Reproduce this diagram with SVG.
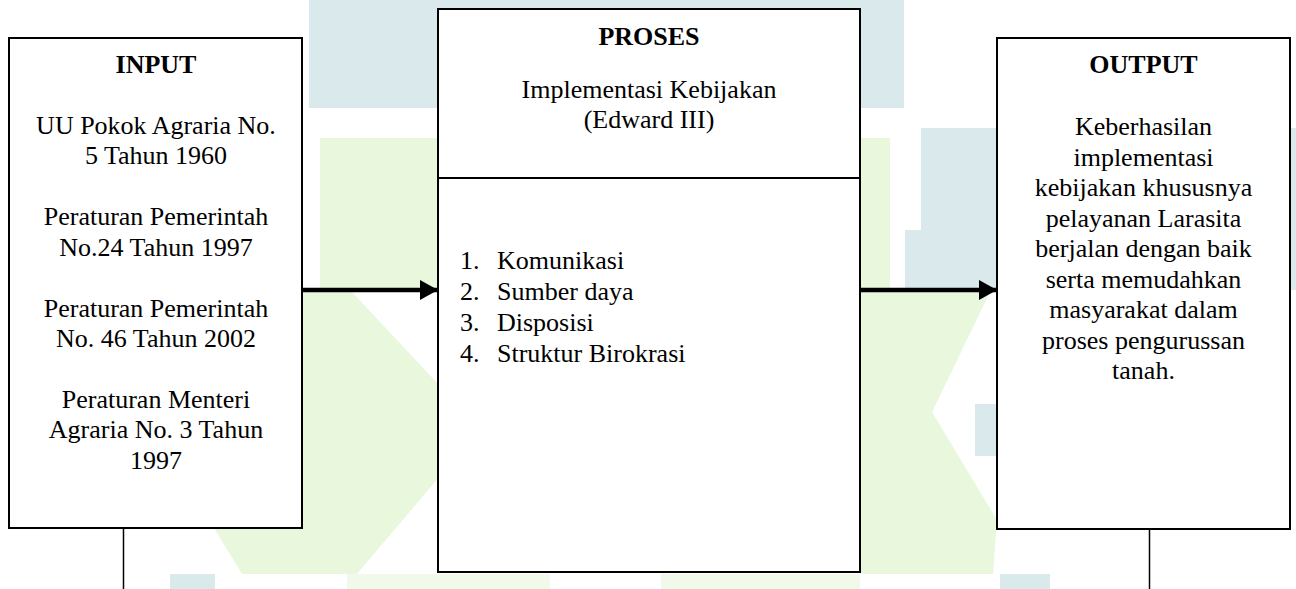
<svg xmlns="http://www.w3.org/2000/svg" width="1296" height="589" viewBox="0 0 1296 589">
<style>
  .box { fill: #ffffff; stroke: #000000; stroke-width: 2; }
  .t { font-family: "Liberation Serif", "Times New Roman", serif; font-size: 26px; fill: #000000; }
  .c { text-anchor: middle; }
  .b { font-weight: bold; }
  .conn { stroke: #000000; stroke-width: 4.5; fill: none; }
  .thin { stroke: #000000; stroke-width: 1.5; fill: none; }
  .teal { fill: #dae9eb; }
  .green { fill: #e9f7dd; }
  .pale { fill: #f1faea; }
</style>
<defs>
  <marker id="arrow" markerUnits="userSpaceOnUse" markerWidth="18" markerHeight="22" refX="18" refY="11" orient="auto">
    <path d="M0,1 L18,11 L0,21 Z" fill="#000000"/>
  </marker>
</defs>
<rect x="0" y="0" width="1296" height="589" fill="#ffffff"/>
<g id="watermark">
  <rect class="teal" x="309" y="0" width="595" height="108"/>
  <rect class="teal" x="921" y="128" width="80" height="162"/>
  <rect class="teal" x="905" y="230" width="20" height="60"/>
  <rect class="teal" x="1289" y="128" width="7" height="162"/>
  <rect class="teal" x="975" y="404" width="25" height="52"/>
  <rect class="green" x="320" y="138" width="120" height="152"/>
  <polygon class="green" points="302,292 352,292 440,386 440,476 357,574 242,574 214,528 302,528"/>
  <rect class="green" x="860" y="138" width="30" height="150"/>
  <polygon class="green" points="860,292 990,292 932,412 997,520 993,574 860,574"/>
  <rect class="pale" x="347" y="574" width="203" height="15"/>
  <rect class="pale" x="661" y="574" width="199" height="15"/>
  <rect class="teal" x="170" y="574" width="45" height="15"/>
  <rect class="teal" x="1000" y="574" width="50" height="15"/>
</g>
<g id="connectors">
  <line class="conn" x1="302" y1="290" x2="438" y2="290" marker-end="url(#arrow)"/>
  <line class="conn" x1="860" y1="290" x2="997" y2="290" marker-end="url(#arrow)"/>
  <line class="thin" x1="123.5" y1="528" x2="123.5" y2="589"/>
  <line class="thin" x1="1149.5" y1="529" x2="1149.5" y2="589"/>
</g>
<g id="input">
  <rect class="box" x="9" y="38" width="293" height="490"/>
  <text class="t c b" x="156" y="73">INPUT</text>
  <text class="t c" x="156" y="134">UU Pokok Agraria No.</text>
  <text class="t c" x="156" y="164">5 Tahun 1960</text>
  <text class="t c" x="156" y="225">Peraturan Pemerintah</text>
  <text class="t c" x="156" y="256">No.24 Tahun 1997</text>
  <text class="t c" x="156" y="317">Peraturan Pemerintah</text>
  <text class="t c" x="156" y="347">No. 46 Tahun 2002</text>
  <text class="t c" x="156" y="408">Peraturan Menteri</text>
  <text class="t c" x="156" y="438">Agraria No. 3 Tahun</text>
  <text class="t c" x="156" y="469">1997</text>
</g>
<g id="proses">
  <rect class="box" x="438" y="9" width="422" height="563"/>
  <line class="thin" x1="438" y1="178" x2="860" y2="178" style="stroke-width:2"/>
  <text class="t c b" x="649" y="45">PROSES</text>
  <text class="t c" x="649" y="98">Implementasi Kebijakan</text>
  <text class="t c" x="649" y="128">(Edward III)</text>
  <text class="t" x="460" y="269">1.</text><text class="t" x="497" y="269">Komunikasi</text>
  <text class="t" x="460" y="300">2.</text><text class="t" x="497" y="300">Sumber daya</text>
  <text class="t" x="460" y="331">3.</text><text class="t" x="497" y="331">Disposisi</text>
  <text class="t" x="460" y="362">4.</text><text class="t" x="497" y="362">Struktur Birokrasi</text>
</g>
<g id="output">
  <rect class="box" x="997" y="38" width="293" height="491"/>
  <text class="t c b" x="1143.5" y="73">OUTPUT</text>
  <text class="t c" x="1143.5" y="135">Keberhasilan</text>
  <text class="t c" x="1143.5" y="166">implementasi</text>
  <text class="t c" x="1143.5" y="196">kebijakan khususnya</text>
  <text class="t c" x="1143.5" y="227">pelayanan Larasita</text>
  <text class="t c" x="1143.5" y="257">berjalan dengan baik</text>
  <text class="t c" x="1143.5" y="288">serta memudahkan</text>
  <text class="t c" x="1143.5" y="318">masyarakat dalam</text>
  <text class="t c" x="1143.5" y="349">proses pengurussan</text>
  <text class="t c" x="1143.5" y="379">tanah.</text>
</g>
</svg>
